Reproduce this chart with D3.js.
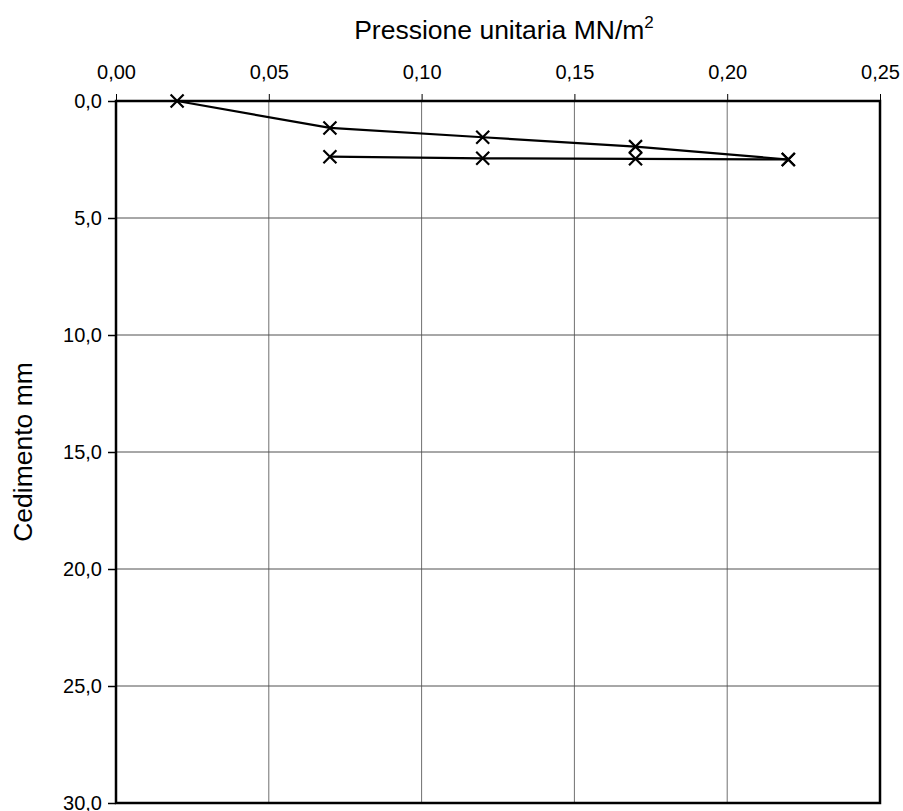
<!DOCTYPE html>
<html>
<head>
<meta charset="utf-8">
<script src="https://cdn.jsdelivr.net/npm/d3@7"></script>
<style>
  body { margin: 0; background: #fff; }
  text { font-family: "Liberation Sans", Arial, sans-serif; fill: #000; }
</style>
</head>
<body>
<div id="chart"></div>
<script>
// prova di carico su piastra: carico e scarico
var loadPressure = [0.02, 0.07, 0.12, 0.17, 0.22];
var loadSettlement = [0.0, 1.15, 1.55, 1.95, 2.5];
var unloadPressure = [0.22, 0.17, 0.12, 0.07];
var unloadSettlement = [2.5, 2.47, 2.45, 2.38];

var xTicks = [0, 0.05, 0.10, 0.15, 0.20, 0.25];
var yTicks = [0, 5, 10, 15, 20, 25, 30];

var w = 903, h = 811;
var margin = {left: 116, right: 23, top: 101, bottom: 8};

var locale = d3.formatLocale({decimal: ",", thousands: ".", grouping: [3], currency: ["", ""]});
var fmtX = locale.format(".2f");
var fmtY = locale.format(".1f");

var x = d3.scaleLinear().domain([0, 0.25]).range([margin.left, w - margin.right]);
var y = d3.scaleLinear().domain([0, 30]).range([margin.top, h - margin.bottom]);

var svg = d3.select("#chart").append("svg")
	.attr("width", w)
	.attr("height", h);

// griglia
svg.append("g").selectAll("line")
	.data(xTicks.slice(1, -1))
	.enter().append("line")
	.attr("x1", function(d) { return x(d); })
	.attr("x2", function(d) { return x(d); })
	.attr("y1", y(0)).attr("y2", y(30))
	.attr("stroke", "#707070").attr("stroke-width", 1);

svg.append("g").selectAll("line")
	.data(yTicks.slice(1, -1))
	.enter().append("line")
	.attr("y1", function(d) { return y(d); })
	.attr("y2", function(d) { return y(d); })
	.attr("x1", x(0)).attr("x2", x(0.25))
	.attr("stroke", "#505050").attr("stroke-width", 1);

// assi
var xAxis = d3.axisTop(x).tickValues(xTicks).tickFormat(fmtX).tickSize(7).tickPadding(15);
var gx = svg.append("g")
	.attr("transform", "translate(0," + y(0) + ")")
	.call(xAxis);
gx.select(".domain").remove();
gx.selectAll("text").style("font-size", "20px").style("font-family", "Liberation Sans, Arial, sans-serif");
gx.selectAll(".tick line").attr("stroke", "#000");

var yAxis = d3.axisLeft(y).tickValues(yTicks).tickFormat(fmtY).tickSize(8).tickPadding(6);
var gy = svg.append("g")
	.attr("transform", "translate(" + x(0) + ",0)")
	.call(yAxis);
gy.select(".domain").remove();
gy.selectAll("text").style("font-size", "20px").style("font-family", "Liberation Sans, Arial, sans-serif");
gy.selectAll(".tick line").attr("stroke", "#000").attr("stroke-width", 1.5);

// cornice
svg.append("rect")
	.attr("x", x(0)).attr("y", y(0))
	.attr("width", x(0.25) - x(0))
	.attr("height", y(30) - y(0))
	.attr("fill", "none")
	.attr("stroke", "#000")
	.attr("stroke-width", 2.5);

// curve
var line = d3.line()
	.x(function(d) { return x(d[0]); })
	.y(function(d) { return y(d[1]); });

var loadData = d3.zip(loadPressure, loadSettlement);
var unloadData = d3.zip(unloadPressure, unloadSettlement);

[loadData, unloadData].forEach(function(series) {
	svg.append("path")
		.datum(series)
		.attr("d", line)
		.attr("fill", "none")
		.attr("stroke", "#000")
		.attr("stroke-width", 2.2);

	var s = 6.5;
	svg.append("g").selectAll("path")
		.data(series)
		.enter().append("path")
		.attr("transform", function(d) { return "translate(" + x(d[0]) + "," + y(d[1]) + ")"; })
		.attr("d", "M" + (-s) + "," + (-s) + "L" + s + "," + s + "M" + (-s) + "," + s + "L" + s + "," + (-s))
		.attr("stroke", "#000")
		.attr("stroke-width", 2.2)
		.attr("fill", "none");
});

// titoli
var title = svg.append("text")
	.attr("x", 504)
	.attr("y", 39)
	.attr("text-anchor", "middle")
	.style("font-size", "26.5px");
title.append("tspan").text("Pressione unitaria MN/m");
title.append("tspan").attr("dy", -11).style("font-size", "17px").text("2");

svg.append("text")
	.attr("transform", "translate(32," + ((y(0) + y(30)) / 2) + ") rotate(-90)")
	.attr("text-anchor", "middle")
	.style("font-size", "26.5px")
	.text("Cedimento mm");
</script>
</body>
</html>
